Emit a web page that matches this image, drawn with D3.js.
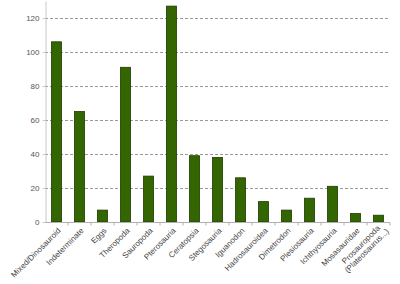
<!DOCTYPE html>
<html>
<head>
<meta charset="utf-8">
<script src="https://cdn.jsdelivr.net/npm/d3@7"></script>
<style>
  body { margin: 0; background: #fff; }
  text { font-family: "Liberation Sans", Arial, sans-serif; }
</style>
</head>
<body>
<div id="chart"></div>
<script>
var categories = ["Mixed/Dinosauroid", "Indeterminate", "Eggs", "Theropoda", "Sauropoda",
  "Pterosauria", "Ceratopsia", "Stegosauria", "Iguanodon", "Hadrosauroidea", "Dimetrodon",
  "Plesiosauria", "Ichthyosauria", "Mosasauridae", "Prosauropoda\n(Plateosaurus...)"];
var counts = [106, 65, 7, 91, 27, 127, 39, 38, 26, 12, 7, 14, 21, 5, 4];
var yTicks = [0, 20, 40, 60, 80, 100, 120];

var WIDTH = 400, HEIGHT = 284;
var MARGIN = { LEFT: 45, RIGHT: 10, TOP: 1, BOTTOM: 62 };

var svg = d3.select("#chart").append("svg")
  .attr("width", WIDTH)
  .attr("height", HEIGHT);

var x = d3.scaleBand()
  .domain(categories)
  .range([MARGIN.LEFT, WIDTH - MARGIN.RIGHT])
  .paddingInner(0.56)
  .paddingOuter(0.28);

var y = d3.scaleLinear()
  .domain([0, 130])
  .range([HEIGHT - MARGIN.BOTTOM, MARGIN.TOP]);

// gridlines
svg.append("g")
  .selectAll("line")
  .data(yTicks.filter(d => d > 0))
  .join("line")
  .attr("x1", MARGIN.LEFT)
  .attr("x2", WIDTH - MARGIN.RIGHT)
  .attr("y1", d => Math.round(y(d)) + 0.5)
  .attr("y2", d => Math.round(y(d)) + 0.5)
  .attr("stroke", "#9a9a9a")
  .attr("stroke-dasharray", "3,2");

// y axis
var yAxis = svg.append("g")
  .attr("transform", "translate(" + (MARGIN.LEFT + 0.5) + ",0)")
  .call(d3.axisLeft(y).tickValues(yTicks).tickSize(3).tickSizeOuter(0));
yAxis.select(".domain").attr("stroke", "#c8c8c8");
yAxis.selectAll(".tick line").attr("stroke", "#c8c8c8");
yAxis.selectAll("text")
  .attr("fill", "#555")
  .attr("font-size", "8px")
  .attr("font-family", "Liberation Sans, Arial, sans-serif");

// bars
svg.append("g")
  .selectAll("rect")
  .data(categories)
  .join("rect")
  .attr("x", (d) => x(d))
  .attr("y", (d, i) => y(counts[i]))
  .attr("width", x.bandwidth())
  .attr("height", (d, i) => y(0) - y(counts[i]))
  .attr("fill", "#336600")
  .attr("stroke", "#1e3d00")
  .attr("stroke-width", 0.8);

// x axis
var base = Math.round(y(0)) + 0.5;
svg.append("line")
  .attr("x1", MARGIN.LEFT)
  .attr("x2", WIDTH - MARGIN.RIGHT)
  .attr("y1", base)
  .attr("y2", base)
  .attr("stroke", "#b0b0b0");

var step = x.step();
svg.append("g")
  .selectAll("line")
  .data(categories)
  .join("line")
  .attr("x1", d => x(d) + x.bandwidth() / 2 + step / 2)
  .attr("x2", d => x(d) + x.bandwidth() / 2 + step / 2)
  .attr("y1", base)
  .attr("y2", base + 3)
  .attr("stroke", "#b0b0b0");

var labels = svg.append("g")
  .selectAll("text")
  .data(categories)
  .join("text")
  .attr("transform", d => "translate(" + (x(d) + x.bandwidth() / 2 + 3) + "," + (base + 7) + ") rotate(-45)")
  .attr("text-anchor", "end")
  .attr("fill", "#444")
  .attr("font-size", "8px");

labels.each(function (d) {
  var parts = d.split("\n");
  var t = d3.select(this);
  parts.forEach(function (p, i) {
    t.append("tspan")
      .attr("x", i == 0 ? 0 : 4)
      .attr("dy", i == 0 ? (parts.length > 1 ? "-0.15em" : "0.3em") : "1.05em")
      .text(p);
  });
});
</script>
</body>
</html>
